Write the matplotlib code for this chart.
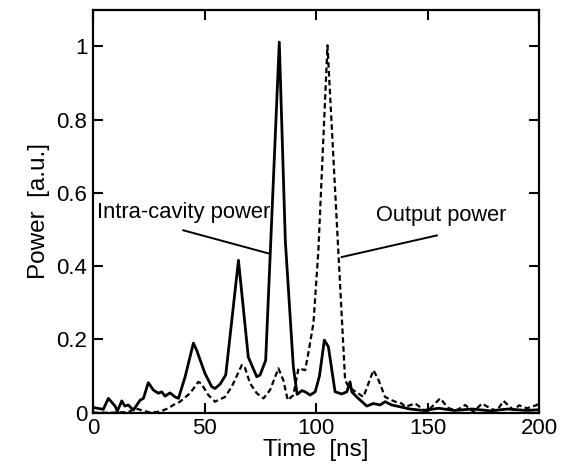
import matplotlib
matplotlib.use('Agg')
import matplotlib.pyplot as plt

plt.rcParams['font.family'] = ['Liberation Sans', 'DejaVu Sans']

# Intra-cavity power (solid)
t_intra = [0, 2, 4.6, 6.9, 9.9, 10.9, 12.9, 14.3, 15.8, 18.1, 21.1, 22.6, 24.8, 27.0,
           29.3, 30.8, 32.3, 34.5, 36.8, 38.3, 41.3, 45.0, 46.5, 50.2, 53.2, 54.7, 57.0,
           59.5, 65.2, 69.6, 73.4, 74.9, 77.4, 83.5, 86.2, 89.8, 91.5, 93.6, 95.1, 97.3,
           99.6, 101.5, 103.7, 105.5, 108.5, 111.5, 113.8, 115.2, 116.0, 118.2, 122.7,
           125.7, 128.7, 130.9, 133.9, 137.7, 142, 148, 155, 162, 170, 178, 186, 194, 200]
p_intra = [0.014, 0.012, 0.009, 0.039, 0.018, 0.004, 0.032, 0.018, 0.021, 0.007, 0.034,
           0.039, 0.082, 0.062, 0.053, 0.057, 0.045, 0.054, 0.043, 0.039, 0.098, 0.19,
           0.17, 0.107, 0.071, 0.066, 0.078, 0.103, 0.416, 0.152, 0.098, 0.103, 0.143,
           1.012, 0.47, 0.125, 0.05, 0.06, 0.057, 0.048, 0.057, 0.1, 0.198, 0.18, 0.057,
           0.051, 0.057, 0.084, 0.057, 0.043, 0.018, 0.025, 0.021, 0.03, 0.021, 0.016,
           0.01, 0.006, 0.012, 0.006, 0.01, 0.005, 0.01, 0.006, 0.008]

# Output power (dashed)
t_out = [0, 10, 16, 19, 22, 26, 30, 33.8, 36, 39, 43.5, 47.2, 48.5, 51.7, 54.7, 59.2,
         62.2, 66.7, 68, 70.4, 73.4, 76.4, 79.4, 83.1, 85.3, 87.3, 89.8, 92.1, 95.1,
         96.5, 98.8, 101, 105.1, 113, 114.5, 117, 121.2, 125.7, 128, 130.9, 133.9,
         135.4, 138.4, 140, 144.4, 149.6, 155.6, 159.3, 163.1, 166.8, 170.5, 174.3,
         178, 181, 184, 188.5, 191, 194.5, 199, 200]
p_out = [0.0, 0.0, 0.002, 0.012, 0.006, 0.0, 0.003, 0.012, 0.021, 0.03, 0.053, 0.084,
         0.08, 0.048, 0.03, 0.043, 0.071, 0.13, 0.125, 0.08, 0.053, 0.039, 0.062, 0.121,
         0.089, 0.034, 0.048, 0.121, 0.116, 0.162, 0.244, 0.44, 1.003, 0.089, 0.071,
         0.06, 0.043, 0.116, 0.089, 0.043, 0.034, 0.03, 0.025, 0.016, 0.025, 0.002,
         0.039, 0.012, 0.007, 0.021, 0.002, 0.025, 0.012, 0.005, 0.032, 0.007, 0.02,
         0.012, 0.021, 0.03]

fig = plt.figure(figsize=(5.67, 4.7), dpi=100)
ax = fig.add_axes([0.164, 0.122, 0.787, 0.857])

ax.plot(t_intra, p_intra, color='black', lw=2.0)
ax.plot(t_out, p_out, color='black', lw=1.6, linestyle=(0, (2.5, 1.5)))

ax.set_xlim(0, 200)
ax.set_ylim(0, 1.1)
ax.set_xticks([0, 50, 100, 150, 200])
ax.set_xticklabels(['0', '50', '100', '150', '200'])
ax.set_yticks([0, 0.2, 0.4, 0.6, 0.8, 1.0])
ax.set_yticklabels(['0', '0.2', '0.4', '0.6', '0.8', '1'])
ax.tick_params(direction='in', length=7, width=1.5, top=True, right=True,
               labelsize=16, pad=4)
for s in ax.spines.values():
    s.set_linewidth(1.6)

ax.set_xlabel('Time  [ns]', fontsize=17.5, labelpad=0)
ax.set_ylabel('Power  [a.u.]', fontsize=17.5, labelpad=5)

# annotations
ax.text(1.7, 0.547, 'Intra-cavity power', fontsize=15.8, va='center', ha='left')
ax.plot([40.5, 78.6], [0.498, 0.435], color='black', lw=1.4)
ax.text(127, 0.539, 'Output power', fontsize=15.7, va='center', ha='left')
ax.plot([154.1, 111.5], [0.484, 0.425], color='black', lw=1.4)

fig.savefig('out.png', dpi=100)
